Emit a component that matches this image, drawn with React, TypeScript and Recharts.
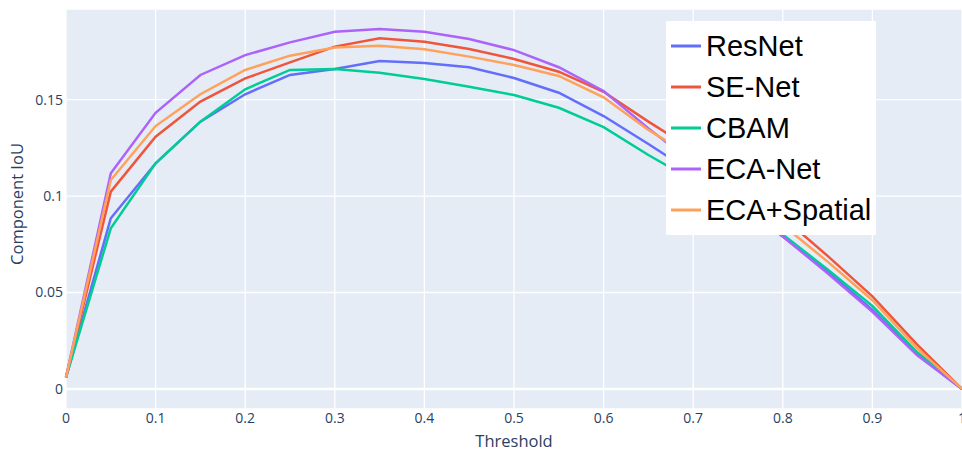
import React from 'react';
import { LineChart, Line, XAxis, YAxis, CartesianGrid, Legend, ReferenceLine } from 'recharts';

const thresholds = [0, 0.05, 0.1, 0.15, 0.2, 0.25, 0.3, 0.35, 0.4, 0.45, 0.5, 0.55, 0.6, 0.65, 0.7, 0.75, 0.8, 0.85, 0.9, 0.95, 1];

const resnet = [0.006, 0.0885, 0.117, 0.1386, 0.1528, 0.1628, 0.1659, 0.170, 0.169, 0.1668, 0.1612, 0.1536, 0.1415, 0.127, 0.112, 0.096, 0.079, 0.061, 0.041, 0.018, 0];
const seNet = [0.006, 0.1023, 0.1308, 0.149, 0.161, 0.1693, 0.1775, 0.1818, 0.180, 0.1763, 0.1711, 0.1645, 0.1541, 0.1386, 0.124, 0.107, 0.089, 0.069, 0.048, 0.023, 0];
const cbam = [0.006, 0.0833, 0.117, 0.1386, 0.1554, 0.1654, 0.1659, 0.164, 0.1607, 0.1567, 0.1524, 0.1458, 0.1357, 0.1213, 0.108, 0.094, 0.080, 0.062, 0.043, 0.019, 0];
const ecaNet = [0.006, 0.1118, 0.1432, 0.1628, 0.1731, 0.1797, 0.1852, 0.1866, 0.1852, 0.1814, 0.1757, 0.1668, 0.1545, 0.1351, 0.117, 0.098, 0.079, 0.060, 0.040, 0.0175, 0];
const ecaSpatial = [0.006, 0.1083, 0.1363, 0.1528, 0.1654, 0.1728, 0.177, 0.178, 0.1761, 0.1723, 0.168, 0.1623, 0.1512, 0.1343, 0.12, 0.103, 0.085, 0.066, 0.046, 0.021, 0];

const xTicks = [0, 0.1, 0.2, 0.3, 0.4, 0.5, 0.6, 0.7, 0.8, 0.9, 1];
const yTicks = [0, 0.05, 0.1, 0.15];

const series = [
  { key: 'ResNet', values: resnet, color: '#636efa' },
  { key: 'SE-Net', values: seNet, color: '#EF553B' },
  { key: 'CBAM', values: cbam, color: '#00cc96' },
  { key: 'ECA-Net', values: ecaNet, color: '#ab63fa' },
  { key: 'ECA+Spatial', values: ecaSpatial, color: '#FFA15A' },
];

const data = thresholds.map((t, i) => {
  const row: Record<string, number> = { t };
  series.forEach((s) => { row[s.key] = s.values[i]; });
  return row;
});

const FONT = '"Open Sans", verdana, arial, sans-serif';
const TEXT = '#2a3f5f';

const LegendBox = () => (
  <div
    style={{
      background: '#fff',
      width: 210,
      height: 214,
      boxSizing: 'border-box',
      paddingTop: 4.5,
      fontFamily: '"Liberation Sans", Arial, sans-serif',
      fontSize: 29,
      color: '#000',
    }}
  >
    {series.map((s) => (
      <div key={s.key} style={{ height: 41, display: 'flex', alignItems: 'center' }}>
        <svg width={40} height={10} style={{ display: 'block' }}>
          <line x1={5} x2={35} y1={5} y2={5} stroke={s.color} strokeWidth={3} />
        </svg>
        <span style={{ whiteSpace: 'nowrap', lineHeight: '41px' }}>{s.key}</span>
      </div>
    ))}
  </div>
);

export default function App() {
  return (
    <div style={{ position: 'absolute', left: 0, top: 0, width: 962, height: 450, background: '#fff' }}>
      <LineChart width={962} height={450} data={data} margin={{ top: 9, right: 0, bottom: 0, left: 0 }}>
        <CartesianGrid fill="#E5ECF6" stroke="#ffffff" strokeWidth={1.3} />
        <XAxis
          dataKey="t"
          type="number"
          domain={[0, 1]}
          ticks={xTicks}
          height={41}
          axisLine={false}
          tickLine={false}
          tickSize={0}
          tickMargin={4.5}
          interval={0}
          tick={{ fontFamily: FONT, fontSize: 14, fill: TEXT }}
          label={{ value: 'Threshold', position: 'center', dy: 11.5, style: { fontFamily: FONT, fontSize: 16.5, fill: TEXT } }}
        />
        <YAxis
          type="number"
          domain={[-0.0104, 0.197]}
          allowDataOverflow
          ticks={yTicks}
          width={66}
          axisLine={false}
          tickLine={false}
          tickSize={0}
          tickMargin={3}
          interval={0}
          tick={{ fontFamily: FONT, fontSize: 14, fill: TEXT }}
          label={{ value: 'Component IoU', angle: -90, position: 'center', dx: -16, dy: -5, style: { fontFamily: FONT, fontSize: 16.5, fill: TEXT } }}
        />
        <ReferenceLine y={0} stroke="#ffffff" strokeWidth={2.5} />
        {series.map((s) => (
          <Line
            key={s.key}
            type="linear"
            dataKey={s.key}
            stroke={s.color}
            strokeWidth={2.5}
            dot={false}
            activeDot={false}
            isAnimationActive={false}
          />
        ))}
        <Legend
          layout="horizontal"
          verticalAlign="middle"
          align="center"
          content={() => <LegendBox />}
          wrapperStyle={{ left: 666, top: 21, width: 210, height: 214 }}
        />
      </LineChart>
    </div>
  );
}
